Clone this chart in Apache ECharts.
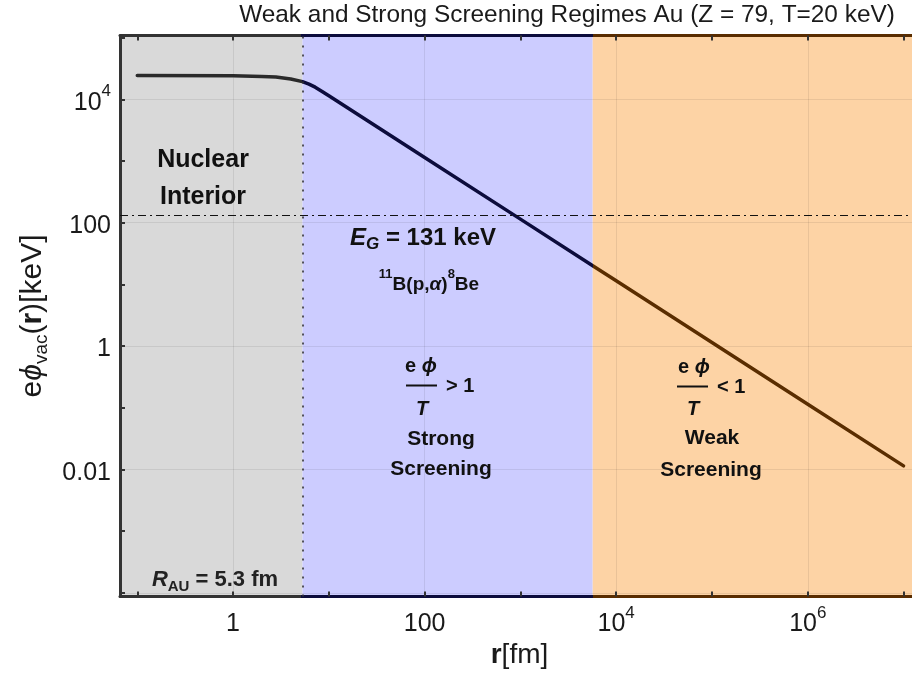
<!DOCTYPE html>
<html>
<head>
<meta charset="utf-8">
<script src="https://cdn.jsdelivr.net/npm/echarts@6/dist/echarts.min.js"></script>
<style>
  html, body { margin: 0; padding: 0; background: #fff; }
  #chart { width: 912px; height: 688px; }
</style>
</head>
<body>
<div id="chart"></div>
<script>
// r in fm, e*phi in keV
var radius = [0.1, 1, 2, 2.8, 4, 5.3, 6.2, 7.2, 8.5, 10, 100, 1000, 5688, 1e4, 1e5, 1e6, 1e7];
var potential = [24300, 24000, 23400, 22900, 21300, 19300, 17600, 15700, 13400, 11380, 1140, 114, 20, 11.4, 1.14, 0.114, 0.0114];

var nucleusRadius = 5.3;  // R_AU
var weakStart = 5688;     // e phi = T = 20 keV
var gamowEnergy = 131;    // E_G

var xMin = 0.066, xMax = 1.45e7;
var yMin = 8.7e-5, yMax = 1.08e5;

var xTickValues = [1, 100, 1e4, 1e6];
var xTickLabels = ['{b|1}', '{b|100}', '{b|10}{s|4}', '{b|10}{s|6}'];
var yTickValues = [0.01, 1, 100, 1e4];
var yTickLabels = ['{b|0.01}', '{b|1}', '{b|100}', '{b|10}{s|4}'];

var FONT = '"Liberation Sans", Arial, sans-serif';
var gridLine = 'rgba(0,0,0,0.08)';
var colGray = '#2a2a2a', colNavy = '#0c0c3c', colBrown = '#5a2d00';

function tickLabel(values, labels) {
  return function (v) {
    for (var i = 0; i < values.length; i++) {
      if (Math.abs(v / values[i] - 1) < 1e-6) return labels[i];
    }
    return '';
  };
}

var lx0 = Math.log10(xMin), lx1 = Math.log10(xMax);
var f1 = (Math.log10(nucleusRadius) - lx0) / (lx1 - lx0);
var f2 = (Math.log10(weakStart) - lx0) / (lx1 - lx0);
function frameColor() {
  return new echarts.graphic.LinearGradient(0, 0, 1, 0, [
    { offset: 0, color: '#333' }, { offset: f1, color: '#333' },
    { offset: f1, color: colNavy }, { offset: f2, color: colNavy },
    { offset: f2, color: colBrown }, { offset: 1, color: colBrown }
  ]);
}

var labelRich = {
  b: { fontSize: 25, fontFamily: FONT, color: '#1a1a1a', lineHeight: 32, verticalAlign: 'bottom' },
  s: { fontSize: 17, fontFamily: FONT, color: '#1a1a1a', lineHeight: 16, verticalAlign: 'top' }
};

var myChart = echarts.init(document.getElementById('chart'));

function txt(text, x, y, size, opts) {
  opts = opts || {};
  return {
    type: 'text', z: 50,
    style: {
      text: text, x: x, y: y,
      font: (opts.style || 'bold') + ' ' + size + 'px ' + FONT,
      fill: '#111',
      align: opts.align || 'center',
      verticalAlign: 'middle',
      rich: opts.rich
    }
  };
}

var eqRich = function (size) {
  return {
    n: { fontSize: size, fontWeight: 'bold', fontFamily: FONT, fill: '#111' },
    i: { fontSize: size, fontWeight: 'bold', fontStyle: 'italic', fontFamily: FONT, fill: '#111' }
  };
};

var option = {
  animation: false,
  title: {
    text: 'Weak and Strong Screening Regimes Au (Z = 79, T=20 keV)',
    left: 567, top: 3, textAlign: 'center', padding: 0,
    textStyle: { fontSize: 24.4, fontWeight: 'normal', fontFamily: FONT, color: '#1a1a1a' }
  },
  grid: { left: 120, right: -7, top: 35.5, bottom: 91.5, outerBoundsMode: 'none' },
  xAxis: [{
    type: 'log', position: 'bottom', min: xMin, max: xMax, z: 3,
    name: '{r|r}{n|[fm]}', nameLocation: 'middle', nameGap: 45, nameMoveOverlap: false,
    nameTextStyle: {
      rich: {
        r: { fontSize: 28, fontWeight: 'bold', fontFamily: FONT, color: '#1a1a1a' },
        n: { fontSize: 28, fontFamily: FONT, color: '#1a1a1a' }
      }
    },
    axisLine: { onZero: false, lineStyle: { color: frameColor(), width: 3 } },
    axisTick: { inside: true, length: 5, lineStyle: { color: '#333', width: 2 } },
    axisLabel: { formatter: tickLabel(xTickValues, xTickLabels), rich: labelRich, margin: 8, showMinLabel: true, showMaxLabel: true, hideOverlap: false },
    splitLine: { show: true, lineStyle: { color: [gridLine, 'rgba(0,0,0,0)'], width: 1 } }
  }, {
    type: 'log', position: 'top', min: xMin, max: xMax, z: 3,
    axisLine: { onZero: false, lineStyle: { color: frameColor(), width: 3 } },
    axisTick: { inside: true, length: 5, lineStyle: { color: '#333', width: 2 } },
    axisLabel: { show: false },
    splitLine: { show: false }
  }],
  yAxis: [{
    type: 'log', position: 'left', min: yMin, max: yMax, z: 3,
    name: '{n|e}{p|ϕ}{sub|vac}{n|(}{r|r}{n|)[keV]}', nameLocation: 'middle', nameGap: 69, nameMoveOverlap: false,
    nameTextStyle: {
      rich: {
        n: { fontSize: 30, fontFamily: FONT, color: '#1a1a1a', lineHeight: 36 },
        p: { fontSize: 30, fontStyle: 'italic', fontFamily: FONT, color: '#1a1a1a', lineHeight: 36 },
        r: { fontSize: 30, fontWeight: 'bold', fontFamily: FONT, color: '#1a1a1a', lineHeight: 36 },
        sub: { fontSize: 19, fontFamily: FONT, color: '#1a1a1a', lineHeight: 20, verticalAlign: 'bottom' }
      }
    },
    axisLine: { onZero: false, lineStyle: { color: '#333', width: 3 } },
    axisTick: { inside: true, length: 5, lineStyle: { color: '#333', width: 2 } },
    axisLabel: { formatter: tickLabel(yTickValues, yTickLabels), rich: labelRich, margin: 9, hideOverlap: false },
    splitLine: { show: true, lineStyle: { color: ['rgba(0,0,0,0)', gridLine], width: 1 } }
  }],
  visualMap: {
    show: false, type: 'piecewise', dimension: 0, seriesIndex: 0,
    pieces: [
      { lte: nucleusRadius, color: colGray },
      { gt: nucleusRadius, lte: weakStart, color: colNavy },
      { gt: weakStart, color: colBrown }
    ]
  },
  series: [{
    type: 'line',
    xAxisIndex: 0, yAxisIndex: 0,
    data: radius.map(function (r, i) { return [r, potential[i]]; }),
    showSymbol: false,
    smooth: false,
    lineStyle: { width: 3.5, join: 'round', cap: 'round' },
    markArea: {
      silent: true,
      data: [
        [{ xAxis: xMin, itemStyle: { color: '#d9d9d9' } }, { xAxis: nucleusRadius }],
        [{ xAxis: nucleusRadius, itemStyle: { color: '#ccccff' } }, { xAxis: weakStart }],
        [{ xAxis: weakStart, itemStyle: { color: '#fdd3a5' } }, { xAxis: xMax }]
      ]
    },
    markLine: {
      silent: true, symbol: 'none', label: { show: false },
      data: [
        { yAxis: gamowEnergy, lineStyle: { type: [8, 4, 2, 4], color: '#111', width: 1 } },
        { xAxis: nucleusRadius, lineStyle: { type: [2, 7], color: '#333', width: 1.6 } }
      ]
    }
  }],
  graphic: [
    txt('Nuclear', 203, 160, 25),
    txt('Interior', 203, 197, 25),
    txt('{i|R}{s|AU}{n| = 5.3 fm}', 215, 580, 22, {
      rich: {
        i: { fontSize: 22, fontWeight: 'bold', fontStyle: 'italic', fontFamily: FONT, fill: '#222', lineHeight: 28 },
        s: { fontSize: 15, fontWeight: 'bold', fontFamily: FONT, fill: '#222', lineHeight: 18, verticalAlign: 'bottom' },
        n: { fontSize: 22, fontWeight: 'bold', fontFamily: FONT, fill: '#222', lineHeight: 28 }
      }
    }),
    txt('{i|E}{s|G}{n| = 131 keV}', 423, 238, 24, {
      rich: {
        i: { fontSize: 24, fontWeight: 'bold', fontStyle: 'italic', fontFamily: FONT, fill: '#111', lineHeight: 30 },
        s: { fontSize: 17, fontWeight: 'bold', fontStyle: 'italic', fontFamily: FONT, fill: '#111', lineHeight: 18, verticalAlign: 'bottom' },
        n: { fontSize: 24, fontWeight: 'bold', fontFamily: FONT, fill: '#111', lineHeight: 30 }
      }
    }),
    txt('{s|11}{n|B(p,}{i|α}{n|)}{s|8}{n|Be}', 429, 281, 19, {
      rich: {
        n: { fontSize: 19, fontWeight: 'bold', fontFamily: FONT, fill: '#111', lineHeight: 26, verticalAlign: 'bottom' },
        i: { fontSize: 19, fontWeight: 'bold', fontStyle: 'italic', fontFamily: FONT, fill: '#111', lineHeight: 26, verticalAlign: 'bottom' },
        s: { fontSize: 13, fontWeight: 'bold', fontFamily: FONT, fill: '#111', lineHeight: 14, verticalAlign: 'top' }
      }
    }),
    // strong screening fraction
    txt('{n|e }{i|ϕ}', 421, 366, 20, { rich: eqRich(20) }),
    { type: 'line', z: 50, shape: { x1: 406, y1: 385.5, x2: 437, y2: 385.5 }, style: { stroke: '#111', lineWidth: 2 } },
    txt('{i|T}', 422, 409, 20, { rich: eqRich(20) }),
    txt('> 1', 446, 386, 20, { align: 'left' }),
    txt('Strong', 441, 439, 21),
    txt('Screening', 441, 469, 21),
    // weak screening fraction
    txt('{n|e }{i|ϕ}', 694, 367, 20, { rich: eqRich(20) }),
    { type: 'line', z: 50, shape: { x1: 677, y1: 386.5, x2: 708, y2: 386.5 }, style: { stroke: '#111', lineWidth: 2 } },
    txt('{i|T}', 693, 409, 20, { rich: eqRich(20) }),
    txt('< 1', 717, 387, 20, { align: 'left' }),
    txt('Weak', 712, 438, 21),
    txt('Screening', 711, 470, 21)
  ]
};

myChart.setOption(option);
</script>
</body>
</html>
